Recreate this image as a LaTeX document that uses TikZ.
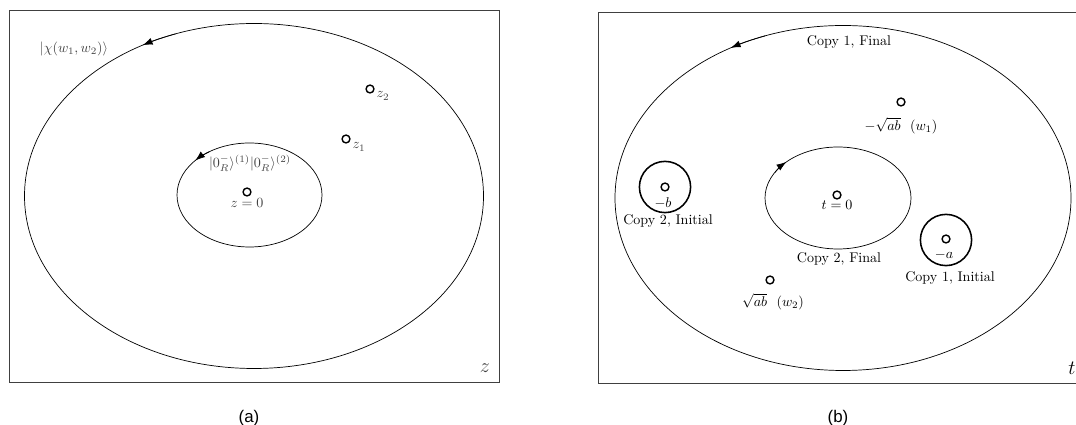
\documentclass[tikz,border=0pt]{standalone}
\usepackage{amsmath}
\usepackage{fontspec}
\setsansfont{Liberation Sans}
\usepackage{tikz}
\usetikzlibrary{arrows.meta,positioning}

\begin{document}
\begin{tikzpicture}[x=0.025cm, y=0.025cm,
    frame/.style={draw=black!75, line width=0.65pt},
    contour/.style={draw, line width=0.5pt},
    pole/.style={draw, circle, line width=1pt, inner sep=0pt, minimum size=5.6pt},
    ring/.style={draw, circle, line width=1.1pt, inner sep=0pt, minimum size=1.28cm},
    greylbl/.style={text=black!75},
    flowtip/.style={-{Latex[length=7pt, width=5pt]}, line width=0.5pt},
    caption/.style={font=\sffamily\large}
]
    \clip (0,0) rectangle (1076,425);

    \coordinate (oa) at (254,229);
    \coordinate (ia) at (249.5,230);
    \draw[frame] (9,43) rectangle (499,415);
    \draw[contour] (oa) ellipse [x radius=229.5, y radius=172.5];
    \draw[contour] (ia) ellipse [x radius=72.5, y radius=52];
    \draw[flowtip] (oa) ++(110:229.5 and 172.5) arc[start angle=110, end angle=119, x radius=229.5, y radius=172.5];
    \draw[flowtip] (ia) ++(124:72.5 and 52) arc[start angle=124, end angle=138.5, x radius=72.5, y radius=52];

    \node[pole] (zzero) at (247,233) {};
    \node[pole] (zone) at (346,286) {};
    \node[pole] (ztwo) at (370,336) {};
    \node[greylbl] (zzerolbl) at (247,222) {$z=0$};
    \node[greylbl] (zonelbl) at (359,278) {$z_1$};
    \node[greylbl] (ztwolbl) at (383,329) {$z_2$};
    \node[greylbl] (chilbl) at (74,376) {$|\chi(w_1,w_2)\rangle$};
    \node[greylbl] (vaclbl) at (250,262) {$|0_R^-\rangle^{(1)}|0_R^-\rangle^{(2)}$};
    \node[greylbl, font=\Large] (zplane) at (485,57) {$z$};
    \node[caption] (capa) at (249,7) {(a)};

    \coordinate (ob) at (843,227);
    \coordinate (ib) at (838,227);
    \draw[frame] (598,42) rectangle (1088,413);
    \draw[contour] (ob) ellipse [x radius=228, y radius=172.5];
    \draw[contour] (ib) ellipse [x radius=73, y radius=51];
    \draw[flowtip] (ob) ++(110:228 and 172.5) arc[start angle=110, end angle=119.5, x radius=228, y radius=172.5];
    \draw[flowtip] (ib) ++(150:73 and 51) arc[start angle=150, end angle=135, x radius=73, y radius=51];

    \node[pole] (tzero) at (837,230) {};
    \node[pole] (wone) at (901,323) {};
    \node[pole] (wtwo) at (770,145) {};
    \node[pole] (mb) at (665,238) {};
    \node[ring] (mbring) at (665,238) {};
    \node[pole] (ma) at (946,186) {};
    \node[ring] (maring) at (946,185) {};

    \node (tzerolbl) at (837,220) {$t=0$};
    \node (wonelbl) at (901,299) {$-\sqrt{ab}\ \ (w_1)$};
    \node (wtwolbl) at (773,123) {$\sqrt{ab}\ \ (w_2)$};
    \node (mblbl) at (663,222) {$-b$};
    \node (malbl) at (944,170) {$-a$};
    \node (cpyonefin) at (849,383) {Copy 1, Final};
    \node (cpytwofin) at (839,166) {Copy 2, Final};
    \node (cpytwoini) at (668,204) {Copy 2, Initial};
    \node (cpyoneini) at (950,147) {Copy 1, Initial};
    \node[font=\Large] (tplane) at (1072,57) {$t$};
    \node[caption] (capb) at (838,7) {(b)};
\end{tikzpicture}
\end{document}
